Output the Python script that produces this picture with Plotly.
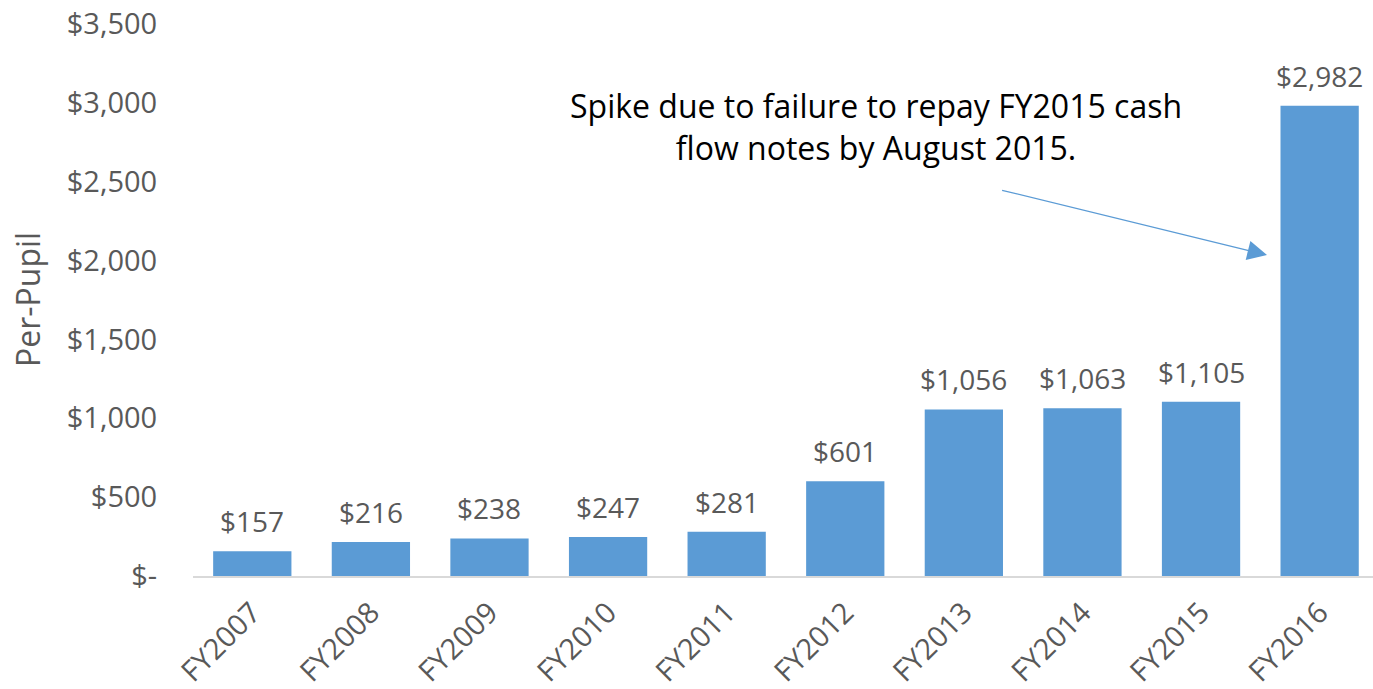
import plotly.graph_objects as go

categories = ["FY2007", "FY2008", "FY2009", "FY2010", "FY2011",
              "FY2012", "FY2013", "FY2014", "FY2015", "FY2016"]
values = [157, 216, 238, 247, 281, 601, 1056, 1063, 1105, 2982]
tick_vals = [0, 500, 1000, 1500, 2000, 2500, 3000, 3500]
tick_text = ["$-", "$500", "$1,000", "$1,500", "$2,000", "$2,500", "$3,000", "$3,500"]
note = "Spike due to failure to repay FY2015 cash<br>flow notes by August 2015."
y_title = "Per-Pupil"

BAR = "#5B9BD5"
GRAY = "#595959"
FONT = "Open Sans, Noto Sans, sans-serif"

fig = go.Figure(go.Bar(
    x=categories, y=values, marker=dict(color=BAR, line=dict(width=0)),
    hoverinfo="skip",
))

annotations = []
for c, v in zip(categories, values):
    annotations.append(dict(
        x=c, y=v, xref="x", yref="y", text=f"${v:,}", showarrow=False,
        yanchor="bottom", yshift=9, font=dict(size=28, color=GRAY, family=FONT),
    ))

# arrow
annotations.append(dict(
    x=8.556, y=2035, ax=6.31, ay=2448, xref="x", yref="y", axref="x", ayref="y",
    text="", showarrow=True, arrowhead=2, arrowsize=3.0, arrowwidth=1.3,
    arrowcolor=BAR, standoff=0,
))
# note text
annotations.append(dict(
    x=5.26, y=2853, xref="x", yref="y", text=note, showarrow=False,
    align="center", font=dict(size=32, color="#000000", family=FONT),
))
# y axis title
annotations.append(dict(
    x=0, y=0.5, xref="paper", yref="paper", xanchor="center", yanchor="middle",
    xshift=-166, text=y_title, textangle=-90, showarrow=False,
    font=dict(size=32, color=GRAY, family=FONT),
))

fig.update_layout(
    width=1373, height=689,
    margin=dict(l=193, r=0, t=24, b=113),
    paper_bgcolor="white", plot_bgcolor="white",
    bargap=0.34, showlegend=False,
    font=dict(family=FONT, color=GRAY),
    annotations=annotations,
    xaxis=dict(
        range=[-0.5, 9.45], tickangle=-45, tickfont=dict(size=29, color=GRAY),
        showline=True, linecolor="#D9D9D9", linewidth=2, showgrid=False,
        ticks="outside", ticklen=6, tickcolor="rgba(0,0,0,0)", automargin=False,
    ),
    yaxis=dict(
        range=[0, 3500], tickvals=tick_vals, ticktext=tick_text,
        tickfont=dict(size=29, color=GRAY), showgrid=False, zeroline=False,
        showline=False, ticks="outside", ticklen=29, tickcolor="rgba(0,0,0,0)",
        automargin=False,
    ),
)

fig.write_html("out.html", config={"displayModeBar": False},
               post_script="document.body.style.margin='0';")
